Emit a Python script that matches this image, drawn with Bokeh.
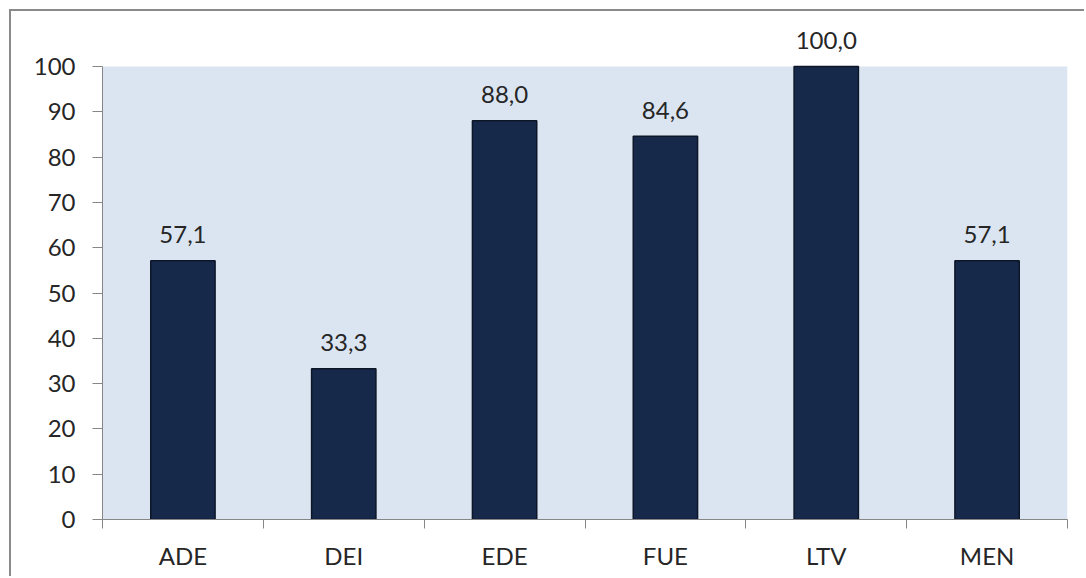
import numpy as np
from bokeh.plotting import figure
from bokeh.models import ColumnDataSource, FixedTicker, Range1d, BoxAnnotation
from bokeh.core.properties import value
from bokeh.embed import file_html
from bokeh.resources import INLINE

categories = ["ADE", "DEI", "EDE", "FUE", "LTV", "MEN"]
values = [57.1, 33.3, 88.0, 84.6, 100.0, 57.1]
labels = ["57,1", "33,3", "88,0", "84,6", "100,0", "57,1"]
y_ticks = [0, 10, 20, 30, 40, 50, 60, 70, 80, 90, 100]

x = np.arange(len(categories)) + 0.5
src = ColumnDataSource(dict(x=x, top=values, label=labels))

FONT = "Lato"
FS = "24px"

W, H = 1075, 567
BL, BR, BB = 91, 19, 59
frame_h = H - BB
plot_h = 453  # pixel height of the 0..100 band
y_end = 100 * frame_h / plot_h

p = figure(width=W, height=H, output_backend="svg", toolbar_location=None,
           x_range=Range1d(0, len(categories)), y_range=Range1d(0, y_end),
           min_border_left=BL, min_border_right=BR, min_border_top=0, min_border_bottom=BB,
           background_fill_color="white", border_fill_color="white",
           outline_line_color=None,
           styles={"margin-left": "9px", "margin-top": "9px",
                   "border-left": "2px solid #8a8a8a", "border-top": "2px solid #8a8a8a"})

# plot area band (0..100)
p.add_layout(BoxAnnotation(bottom=0, top=100, fill_color="#dbe5f1", fill_alpha=1,
                           line_color=None, level="underlay"))

p.vbar(x="x", top="top", width=0.4, bottom=0, source=src,
       fill_color="#17294a", line_color="#0c1628", line_width=1.5)

p.text(x="x", y="top", text="label", source=src, text_align="center",
       text_baseline="alphabetic", y_offset=-26,
       text_font=value(FONT), text_font_size=FS, text_color="#262626")

p.xgrid.visible = False
p.ygrid.visible = False

# y axis
p.yaxis.ticker = FixedTicker(ticks=y_ticks)
p.yaxis.bounds = (0, 100)
p.yaxis.axis_line_color = "#868686"
p.yaxis.major_tick_line_color = "#868686"
p.yaxis.major_tick_out = 10
p.yaxis.major_tick_in = 0
p.yaxis.minor_tick_line_color = None
p.yaxis.major_label_text_font = FONT
p.yaxis.major_label_text_font_size = FS
p.yaxis.major_label_text_color = "#262626"
p.yaxis.major_label_standoff = 17

# x axis: labels at centers, ticks at category boundaries
p.xaxis.ticker = FixedTicker(ticks=list(x), minor_ticks=list(range(len(categories) + 1)))
p.xaxis.major_label_overrides = {float(xx): c for xx, c in zip(x, categories)}
p.xaxis.axis_line_color = "#868686"
p.xaxis.major_tick_line_color = None
p.xaxis.minor_tick_line_color = "#868686"
p.xaxis.minor_tick_out = 9
p.xaxis.minor_tick_in = 0
p.xaxis.major_label_text_font = FONT
p.xaxis.major_label_text_font_size = FS
p.xaxis.major_label_text_color = "#262626"
p.xaxis.major_label_standoff = 12

open("out.html", "w").write(file_html(p, INLINE))
